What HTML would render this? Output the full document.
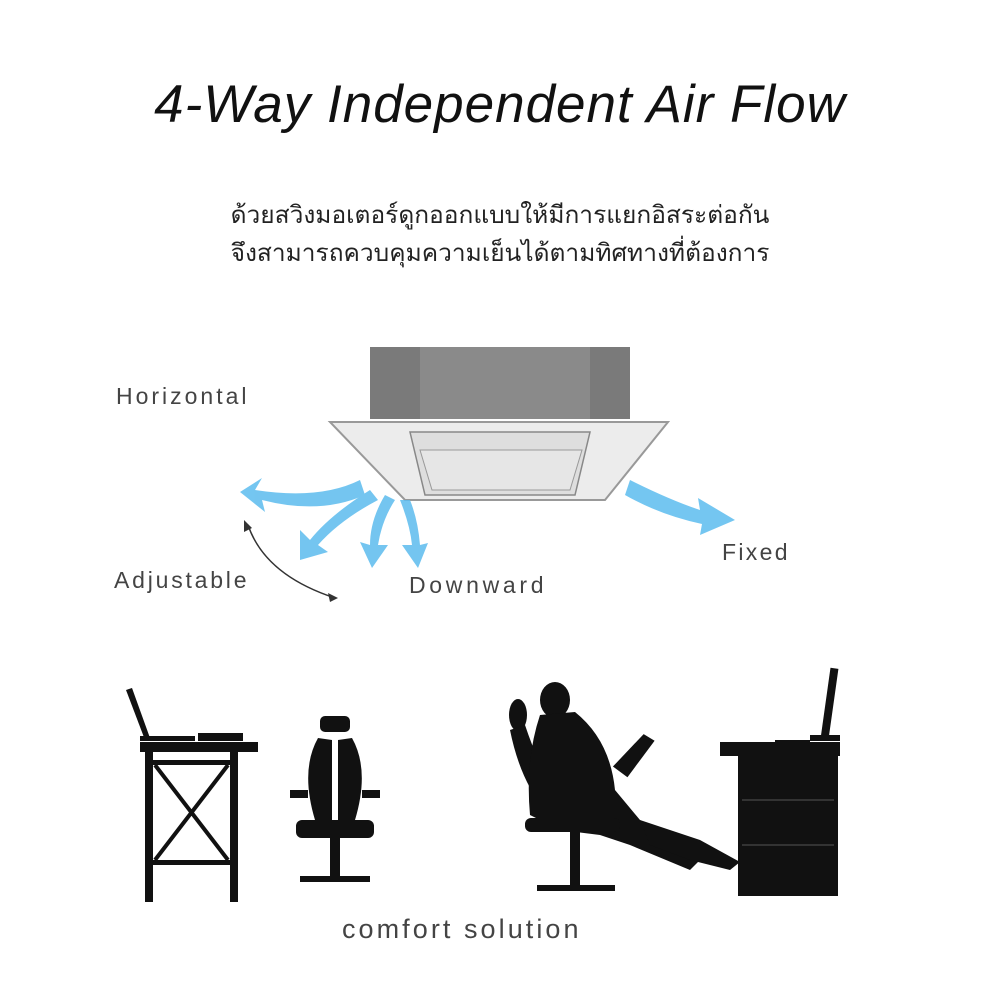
<!DOCTYPE html>
<html><head><meta charset="utf-8"><style>
html,body{margin:0;padding:0;background:#fff;}
body{width:1000px;height:1000px;overflow:hidden;position:relative;font-family:"Liberation Sans",sans-serif;}
.t{position:absolute;left:0;width:1000px;text-align:center;}
</style></head><body>
<div class="t" style="top:74px;font-size:53px;font-style:italic;color:#111;letter-spacing:1px;">4-Way Independent Air Flow</div>
<div class="t" style="top:195px;font-size:24.5px;color:#222;">ด้วยสวิงมอเตอร์ดูกออกแบบให้มีการแยกอิสระต่อกัน</div>
<div class="t" style="top:233px;font-size:24.5px;color:#222;">จึงสามารถควบคุมความเย็นได้ตามทิศทางที่ต้องการ</div>
<svg width="1000" height="1000" style="position:absolute;left:0;top:0">
<!-- AC unit -->
<rect x="370" y="347" width="260" height="72" fill="#7a7a7a"/>
<rect x="420" y="347" width="170" height="72" fill="#8a8a8a"/>
<polygon points="330,422 668,422 605,500 405,500" fill="#ececec" stroke="#999" stroke-width="2"/>
<polygon points="410,432 590,432 575,495 425,495" fill="#dedede" stroke="#888" stroke-width="1.5"/>
<polygon points="420,450 582,450 570,490 432,490" fill="#e6e6e6" stroke="#999"/>
<g fill="#5cbcee" opacity=".85">
<path d="M360,480 Q320,500 255,490 L262,478 L240,492 L265,512 L262,500 Q320,515 365,495Z"/>
<path d="M370,490 Q330,515 310,540 L300,530 L300,560 L328,552 L318,545 Q340,520 378,500Z"/>
<path d="M385,495 Q370,520 370,545 L360,542 L372,568 L388,545 L378,545 Q382,520 395,500Z"/>
<path d="M400,500 Q410,525 412,545 L402,545 L418,568 L428,543 L420,545 Q418,520 410,500Z"/>
<path d="M630,480 Q670,500 700,510 L698,498 L735,520 L700,535 L702,524 Q660,515 625,495Z"/>
</g>
<path d="M248,525 Q265,575 335,598" stroke="#333" stroke-width="1.5" fill="none"/>
<polygon points="244,520 244,532 252,528" fill="#333"/><polygon points="338,598 328,593 330,602" fill="#333"/>
<g font-family="Liberation Sans,sans-serif" font-size="23" fill="#444" letter-spacing="1.5">
<text x="116" y="404" textLength="132">Horizontal</text><text x="114" y="588" textLength="134">Adjustable</text>
<text x="409" y="593" textLength="136">Downward</text><text x="722" y="560" textLength="67">Fixed</text>
<text x="342" y="938" font-size="27" textLength="238">comfort solution</text></g>
<g fill="#111">
<rect x="140" y="742" width="118" height="10"/><rect x="145" y="752" width="8" height="150"/><rect x="230" y="752" width="8" height="150"/>
<rect x="153" y="760" width="77" height="5"/><rect x="153" y="860" width="77" height="5"/>
<path d="M155,765 L228,860 M228,765 L155,860" stroke="#111" stroke-width="4"/>
<path d="M126,690 L132,688 L150,738 L145,740Z"/><rect x="140" y="736" width="55" height="5"/><rect x="198" y="733" width="45" height="8"/>
<rect x="320" y="716" width="30" height="16" rx="5"/><path d="M318,738 Q300,770 315,820 L332,820 L332,740Z M352,738 Q370,770 355,820 L338,820 L338,740Z"/>
<rect x="296" y="820" width="78" height="18" rx="6"/><rect x="330" y="838" width="10" height="40"/>
<rect x="300" y="876" width="70" height="6"/>
<rect x="290" y="790" width="18" height="8"/><rect x="362" y="790" width="18" height="8"/>
<ellipse cx="518" cy="715" rx="9" ry="16"/><path d="M510,730 Q520,780 545,810 L560,800 Q540,770 525,725Z"/>
<ellipse cx="555" cy="700" rx="15" ry="18"/>
<path d="M540,715 L575,712 Q610,740 615,790 L640,820 L700,860 L690,870 L630,845 L600,835 L560,830 L530,815 Q525,760 540,715Z"/>
<path d="M640,820 L700,840 L740,862 L730,870 L690,860 L650,845Z"/>
<path d="M610,760 L650,740 L658,750 L620,775Z" transform="rotate(-20 630 755)"/>
<rect x="525" y="818" width="95" height="14" rx="6"/><rect x="570" y="832" width="10" height="55"/>
<rect x="537" y="885" width="78" height="6"/>
<rect x="720" y="742" width="120" height="14"/><rect x="738" y="756" width="100" height="140"/>
<rect x="826" y="668" width="8" height="70" transform="rotate(8 830 700)"/><rect x="810" y="735" width="30" height="6"/>
<rect x="775" y="740" width="35" height="4"/>
</g>
<g stroke="#555" stroke-width="1"><line x1="742" y1="800" x2="834" y2="800"/><line x1="742" y1="845" x2="834" y2="845"/></g>
</svg>
</body></html>
